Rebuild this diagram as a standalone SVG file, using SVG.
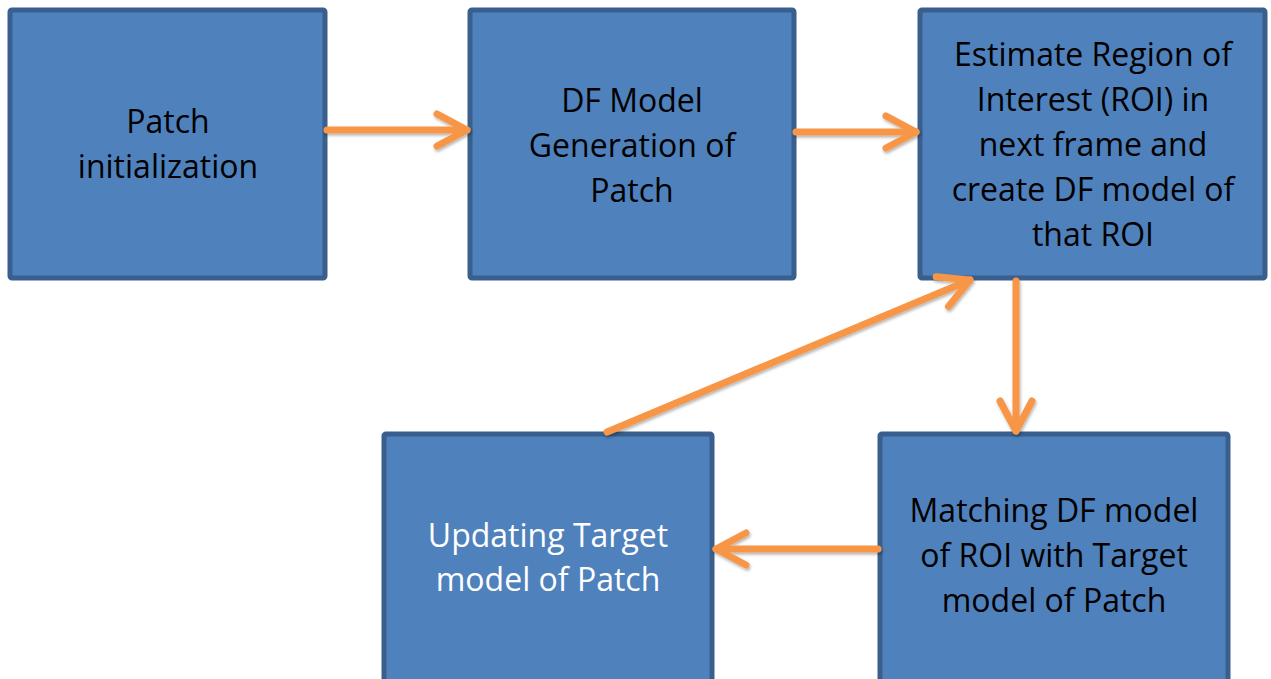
<svg xmlns="http://www.w3.org/2000/svg" width="1271" height="679" viewBox="0 0 1271 679">
<style>
.box{fill:#4F81BD;stroke:#3A5F8C;stroke-width:5;}
.t{font-family:"Open Sans","Liberation Sans",sans-serif;font-size:32px;text-anchor:middle;fill:#000;}
.w{fill:#fff;}
.c{fill:none;stroke:#F79646;stroke-width:7;stroke-linecap:round;}
</style>
<defs>
<marker id="ah" markerUnits="userSpaceOnUse" markerWidth="60" markerHeight="60" refX="0" refY="0" orient="auto" overflow="visible">
<path d="M -30 -16 L 0 0 L -30 16" fill="none" stroke="#F79646" stroke-width="7" stroke-linecap="round" stroke-linejoin="round"/>
</marker>
<filter id="sh" x="-10%" y="-10%" width="120%" height="130%">
<feDropShadow dx="1" dy="2" stdDeviation="1.5" flood-color="#000" flood-opacity="0.3"/>
</filter>
</defs>
<rect width="1271" height="679" fill="#fff"/>
<g id="n1"><rect class="box" x="10" y="10" width="315" height="268" rx="2"/>
<text class="t" x="168" y="133">Patch</text><text class="t" x="168" y="178">initialization</text></g>
<g id="n2"><rect class="box" x="470" y="10" width="324" height="268" rx="2"/>
<text class="t" x="632" y="112">DF Model</text><text class="t" x="632" y="157">Generation of</text><text class="t" x="632" y="202">Patch</text></g>
<g id="n3"><rect class="box" x="920" y="10" width="345" height="268" rx="2"/>
<text class="t" x="1093" y="66">Estimate Region of</text><text class="t" x="1093" y="111">Interest (ROI) in</text><text class="t" x="1093" y="156">next frame and</text><text class="t" x="1093" y="201">create DF model of</text><text class="t" x="1093" y="246">that ROI</text></g>
<g id="n4"><rect class="box" x="384" y="434" width="328" height="260" rx="2"/>
<text class="t w" x="548" y="547">Updating Target</text><text class="t w" x="548" y="591">model of Patch</text></g>
<g id="n5"><rect class="box" x="880" y="434" width="348" height="260" rx="2"/>
<text class="t" x="1054" y="522">Matching DF model</text><text class="t" x="1054" y="567">of ROI with Target</text><text class="t" x="1054" y="612">model of Patch</text></g>
<g id="connectors" filter="url(#sh)">
<line class="c" x1="327" y1="130" x2="467" y2="130" marker-end="url(#ah)"/>
<line class="c" x1="796" y1="132" x2="916" y2="132" marker-end="url(#ah)"/>
<line class="c" x1="1016" y1="281" x2="1016" y2="431" marker-end="url(#ah)"/>
<line class="c" x1="878" y1="549" x2="716" y2="549" marker-end="url(#ah)"/>
<line class="c" x1="607" y1="432" x2="970" y2="280" marker-end="url(#ah)"/>
</g>
</svg>
